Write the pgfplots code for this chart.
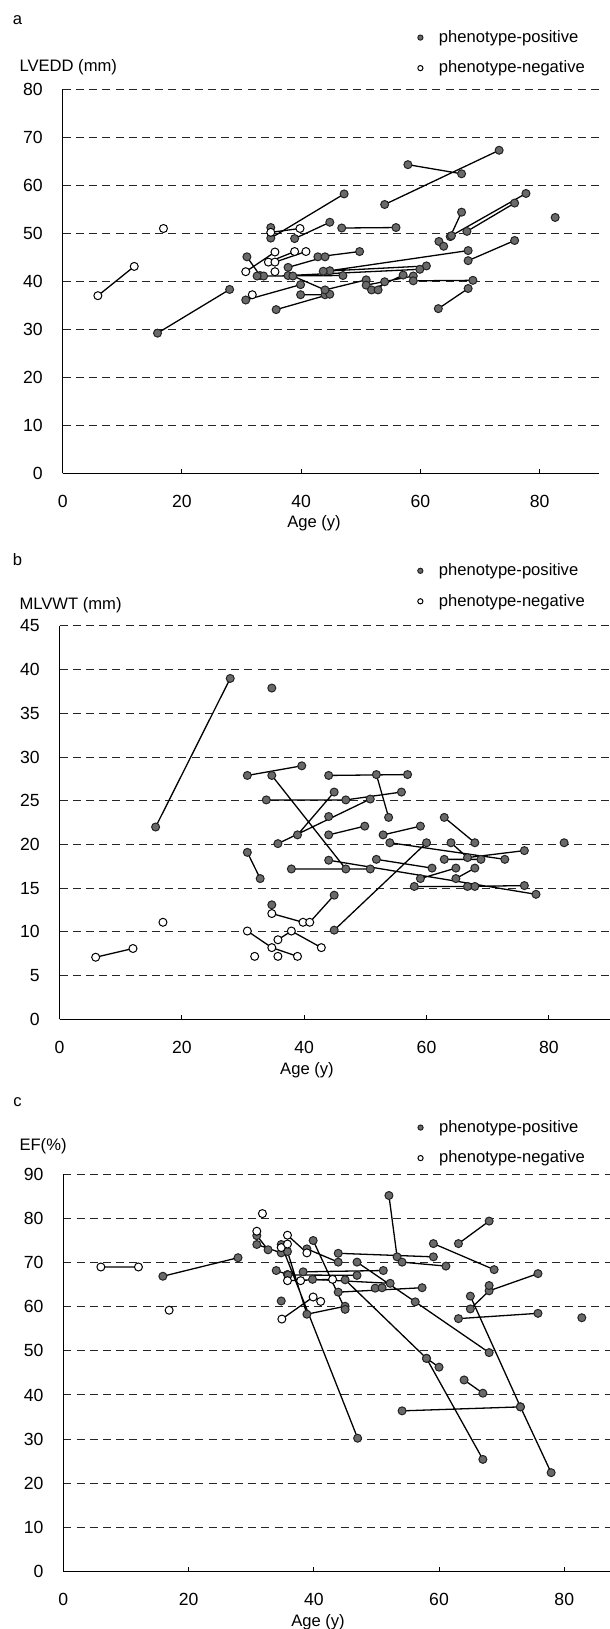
\documentclass[border=0pt]{standalone}
\usepackage{fontspec}
\setmainfont{Liberation Sans}
\usepackage{pgfplots}
\pgfplotsset{compat=1.18}

\definecolor{posfill}{RGB}{105,105,105}
\definecolor{posedge}{RGB}{35,35,35}
\newcommand{\fs}{\fontsize{8.3pt}{9.8pt}\selectfont}
\newcommand{\ft}{\fontsize{8.8pt}{10pt}\selectfont}

\pgfplotsset{
  panel/.style={
    scale only axis,
    anchor=south west,
    axis lines*=left,
    axis line style={line width=0.75pt, black},
    xmin=0, ymin=0,
    xtick={0,20,40,60,80},
    xtick align=inside,
    major tick length=2pt,
    ytick style={draw=none},
    xtick style={black, line width=0.5pt},
    ymajorgrids,
    grid style={dash pattern=on 4pt off 2.6pt, line width=0.5pt, black!85},
    tick label style={font=\ft},
    /pgf/number format/assume math mode=true,
    yticklabel style={xshift=-7pt},
    xticklabel style={yshift=-8pt},
    unbounded coords=jump,
    clip=false,
    legend style={draw=none, fill=none, inner sep=0pt, anchor=north west,
      row sep=4pt, font=\fs,
      /tikz/every odd column/.append style={column sep=6pt}},
    legend cell align=left,
    legend image code/.code={\draw[##1, mark size=1.3pt] plot coordinates {(0pt,0pt)};},
  },
  pos/.style={black, line width=0.65pt, mark=*, mark size=2pt,
    mark options={fill=posfill, draw=posedge, line width=0.5pt}},
  neg/.style={black, line width=0.65pt, mark=*, mark size=2pt,
    mark options={fill=white, draw=black, line width=0.5pt}},
}

\begin{document}
\fs
\begin{tikzpicture}[font=\fs]
\useasboundingbox (0,0) rectangle (305pt,814.5pt);

% ---------------- panel a: LVEDD
\node at (8.75pt,804.5pt) {a};
\node[anchor=west] at (6.8pt,781pt) {LVEDD (mm)};
\node at (157pt,552.7pt) {Age (y)};
\begin{axis}[panel, at={(31.35pt,577.85pt)}, width=268.3pt, height=192pt,
  xmax=90, ymax=80, ytick={0,10,...,80},
  legend style={at={(0.661,1.165)}}]
\addlegendimage{only marks, pos}
\addlegendentry{phenotype-positive}
\addlegendimage{only marks, neg}
\addlegendentry{phenotype-negative}
\addplot[pos, forget plot] coordinates {
(15.9,29.2) (28,38.3) (nan,nan)
(30.9,45.1) (33.1,41.2) (nan,nan)
(30.7,36.1) (39.9,39.3) (nan,nan)
(33.7,41.1) (47,41.2) (nan,nan)
(32.6,41.1) (nan,nan)
(34.9,49) (47.2,58.2) (nan,nan)
(34.9,51.2) (nan,nan)
(38.9,48.9) (44.8,52.3) (nan,nan)
(46.8,51.1) (55.9,51.2) (nan,nan)
(54,56) (73.2,67.3) (nan,nan)
(57.9,64.3) (66.9,62.4) (nan,nan)
(63.1,48.3) (63.9,47.3) (nan,nan)
(65,49.3) (66.9,54.4) (nan,nan)
(65.2,49.5) (77.7,58.3) (nan,nan)
(67.8,50.4) (75.8,56.3) (nan,nan)
(68,44.3) (75.8,48.5) (nan,nan)
(44.8,42.2) (68,46.4) (nan,nan)
(42.8,45.1) (49.8,46.2) (nan,nan)
(37.8,42.9) (44,45.1) (nan,nan)
(43.7,42.1) (61,43.2) (nan,nan)
(37.8,41.2) (59.9,42.5) (nan,nan)
(39.9,37.2) (44,37.2) (nan,nan)
(35.8,34.1) (44.8,37.3) (nan,nan)
(38.6,41.1) (44,38.2) (50.9,40.3) (nan,nan)
(50.9,39.2) (58.8,41.1) (nan,nan)
(51.8,38.2) (57.1,41.3) (nan,nan)
(52.9,38.2) (54,39.9) (nan,nan)
(58.8,40.1) (68.8,40.2) (nan,nan)
(63,34.3) (68,38.5) (nan,nan)
(82.6,53.3)
};
\addplot[neg, forget plot] coordinates {
(5.9,37) (12,43.1) (nan,nan)
(16.9,51) (nan,nan)
(34.9,50.2) (39.8,51) (nan,nan)
(30.7,42) (35.6,46.1) (nan,nan)
(34.5,44) (38.9,46.2) (nan,nan)
(35.6,44) (40.8,46.2) (nan,nan)
(35.6,42) (nan,nan)
(31.8,37.2)
};
\end{axis}

% ---------------- panel b: MLVWT
\node at (8.75pt,534.85pt) {b};
\node[anchor=west] at (6.8pt,512pt) {MLVWT (mm)};
\node at (153.5pt,279.15pt) {Age (y)};
\begin{axis}[panel, at={(29.8pt,304.85pt)}, width=275.2pt, height=196.65pt,
  xmax=90, ymax=45, ytick={0,5,...,45},
  legend style={at={(0.650,1.170)}}]
\addlegendimage{only marks, pos}
\addlegendentry{phenotype-positive}
\addlegendimage{only marks, neg}
\addlegendentry{phenotype-negative}
\addplot[black, line width=0.65pt, forget plot] coordinates {(40.9,11.1) (44.9,14.2)};
\addplot[pos, forget plot] coordinates {
(15.7,22) (27.9,39) (nan,nan)
(34.7,37.9) (nan,nan)
(30.7,27.9) (39.6,29) (nan,nan)
(34.7,27.9) (46.8,17.2) (nan,nan)
(44,27.9) (56.9,28) (nan,nan)
(51.8,28) (53.8,23.1) (nan,nan)
(33.8,25.1) (46.8,25.1) (55.9,26) (nan,nan)
(35.7,20.1) (50.8,25.2) (nan,nan)
(38.9,21.1) (44.9,26) (nan,nan)
(44,23.2) (nan,nan)
(44,21.1) (49.9,22.1) (nan,nan)
(52.9,21.1) (59,22.1) (nan,nan)
(54,20.2) (72.8,18.3) (nan,nan)
(44.9,10.2) (60,20.2) (nan,nan)
(64,20.2) (66.7,18.5) (76,19.3) (nan,nan)
(62.9,23.1) (67.9,20.2) (nan,nan)
(82.5,20.2) (nan,nan)
(44,18.2) (77.9,14.3) (nan,nan)
(51.8,18.3) (60.9,17.3) (nan,nan)
(58,15.2) (67.9,15.2) (nan,nan)
(66.7,15.2) (76,15.3) (nan,nan)
(37.9,17.2) (50.8,17.2) (nan,nan)
(62.9,18.3) (68.9,18.3) (nan,nan)
(59,16.1) (64.8,17.3) (nan,nan)
(64.8,16.1) (67.9,17.3) (nan,nan)
(30.7,19.1) (32.8,16.1) (nan,nan)
(34.7,13.1) (nan,nan)
(44.9,14.2)
};
\addplot[neg, forget plot] coordinates {
(5.9,7.1) (12,8.1) (nan,nan)
(16.9,11.1) (nan,nan)
(30.7,10.1) (34.7,8.2) (38.9,7.2) (nan,nan)
(31.9,7.2) (nan,nan)
(34.7,12.1) (39.8,11.1) (nan,nan)
(35.7,9.1) (37.9,10.1) (42.8,8.2) (nan,nan)
(35.7,7.2) (nan,nan)
(40.9,11.1)
};
\end{axis}

% ---------------- panel c: EF
\node at (8.75pt,263.65pt) {c};
\node[anchor=west] at (6.8pt,241.5pt) {EF(\%)};
\node at (159pt,3.2pt) {Age (y)};
\begin{axis}[panel, at={(31.65pt,28.75pt)}, width=273.35pt, height=198.6pt,
  xmax=87.3, ymax=90, ytick={0,10,...,90},
  legend style={at={(0.648,1.147)}}]
\addlegendimage{only marks, pos}
\addlegendentry{phenotype-positive}
\addlegendimage{only marks, neg}
\addlegendentry{phenotype-negative}
\addplot[pos, forget plot] coordinates {
(15.9,66.9) (27.9,71.1) (nan,nan)
(30.9,76.1) (32.7,72.9) (nan,nan)
(30.9,74.1) (34.8,72.2) (nan,nan)
(34.8,74.1) (47,30.2) (nan,nan)
(35.8,72.5) (38.9,58.3) (45,60.1) (nan,nan)
(39.9,75) (45,59.4) (nan,nan)
(34,68.2) (35.8,67.3) (nan,nan)
(35.9,67.2) (46.9,67.1) (nan,nan)
(38.3,67.9) (51.1,68.2) (nan,nan)
(39.8,66.2) (52.2,65.3) (nan,nan)
(38.9,73.1) (43.9,70.1) (nan,nan)
(43.9,72.1) (59.1,71.3) (nan,nan)
(52,85.2) (53.3,71.3) (nan,nan)
(54.1,70.1) (61.1,69.2) (nan,nan)
(46.9,70.1) (56.2,61.1) (68,49.6) (nan,nan)
(45,66.1) (58,48.3) (67,25.4) (nan,nan)
(58,48.3) (60,46.3) (nan,nan)
(43.9,63.3) (57.3,64.3) (nan,nan)
(49.8,64.2) (50.9,64.3) (nan,nan)
(59.1,74.3) (68.8,68.4) (nan,nan)
(63.1,74.3) (68,79.4) (nan,nan)
(65,62.4) (73,37.3) (77.9,22.4) (nan,nan)
(65,59.5) (68,63.6) (75.8,67.5) (nan,nan)
(68,64.8) (nan,nan)
(63.1,57.3) (75.8,58.5) (nan,nan)
(82.8,57.5) (nan,nan)
(64,43.4) (67,40.4) (nan,nan)
(54.1,36.4) (73,37.3) (nan,nan)
(34.8,61.3)
};
\addplot[neg, forget plot] coordinates {
(6,69) (12,69) (nan,nan)
(16.9,59.2) (nan,nan)
(31.8,81.1) (nan,nan)
(30.9,77.1) (nan,nan)
(35.8,76.2) (38.9,72.2) (nan,nan)
(34.8,73.4) (nan,nan)
(35.8,74.2) (nan,nan)
(35.8,65.9) (43,66.2) (nan,nan)
(37.9,65.9) (nan,nan)
(34.9,57.2) (39.9,62.2) (nan,nan)
(41.1,61.2)
};
\end{axis}
\end{tikzpicture}
\end{document}
